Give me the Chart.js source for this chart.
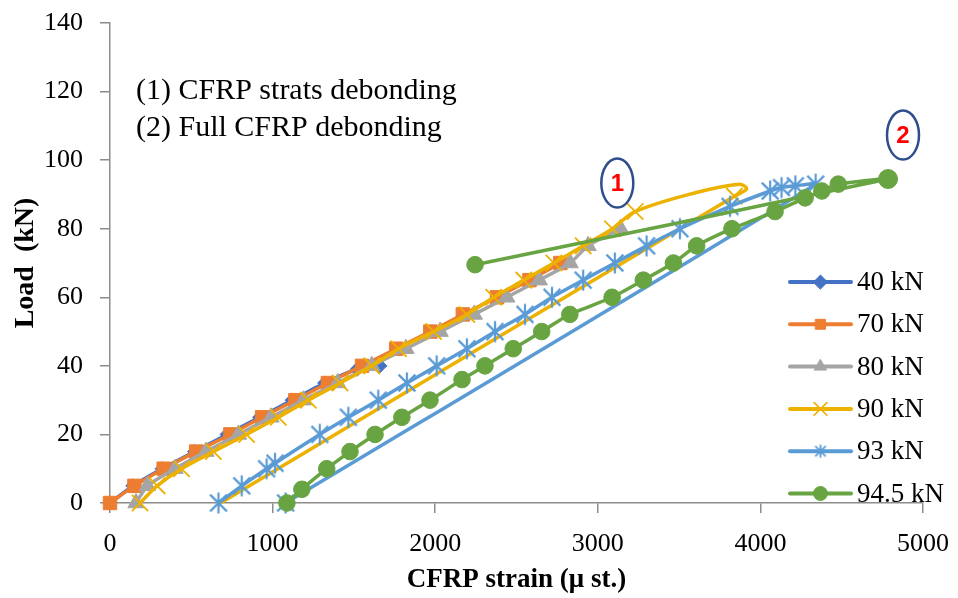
<!DOCTYPE html>
<html>
<head>
<meta charset="utf-8">
<script src="https://cdn.jsdelivr.net/npm/chart.js@4"></script>
<style>
  html, body { margin: 0; padding: 0; background: #fff; }
  #wrap { width: 958px; height: 598px; }
</style>
</head>
<body>
<div id="wrap"><canvas id="strainChart" width="958" height="598"></canvas></div>
<script>
// strain (micro strain) / load (kN) pairs
const strain40 = [0, 140, 320, 520, 720, 920, 1120, 1320, 1520, 1660];
const load40   = [0, 5, 10, 15, 20, 25, 30, 35, 39, 40];

const strain70 = [0, 150, 330, 530, 740, 935, 1140, 1340, 1550, 1760, 1970, 2170, 2380, 2580, 2770];
const load70   = [0, 5, 10, 15, 20, 25, 30, 35, 40, 45, 50, 55, 60, 65, 70];

const strain80 = [160, 230, 400, 590, 790, 990, 1190, 1400, 1610, 1820, 2030, 2240, 2440, 2640, 2830, 2940, 3140];
const load80   = [0, 5, 10, 15, 20, 25, 30, 35, 40, 45, 50, 55, 60, 65, 70, 75, 80];

const strain90 = [185, 290, 440, 636, 840, 1035, 1220, 1415, 1610, 1775, 1990, 2195, 2360, 2545, 2730, 2910, 3090, 3230, 3600, 3870, 3915, 3840, 680];
const load90   = [0, 5, 10, 15, 20, 25, 30, 35, 40, 45, 50, 55, 60, 65, 70, 75, 80, 85, 90.5, 93, 91.6, 89.5, 0];
const marks90  = [1, 1, 1, 1, 1, 1, 1, 1, 1, 1, 1, 1, 1, 1, 1, 1, 1, 1, 0, 0, 0, 1, 0];

const strain93 = [667, 810, 963, 1015, 1290, 1466, 1650, 1826, 2009, 2195, 2368, 2552, 2718, 2910, 3105, 3300, 3505, 3813, 4060, 4130, 4215, 4340, 1080];
const load93   = [0, 5, 10, 11.6, 20, 25, 30, 35, 40, 45, 50, 55, 60, 65, 70, 75, 80, 86.5, 91, 92, 92.5, 93, 0];

const strain94 = [1088, 1180, 1333, 1476, 1630, 1795, 1968, 2165, 2306, 2480, 2655, 2828, 3088, 3280, 3465, 3608, 3825, 4090, 4275, 4378, 4479, 4785, 2245];
const load94   = [0, 4, 10, 15, 20, 25, 30, 36, 40, 45, 50, 55, 60, 65, 70, 75, 80, 85, 89, 91, 93, 94.5, 69.5];

const seriesNames = ['40 kN', '70 kN', '80 kN', '90 kN', '93 kN', '94.5 kN'];
const xTicks = [0, 1000, 2000, 3000, 4000, 5000];
const yTicks = [0, 20, 40, 60, 80, 100, 120, 140];

const notes = ['(1) CFRP strats debonding', '(2) Full CFRP debonding'];

function pts(xs, ys) {
  return xs.map((x, i) => ({ x: x, y: ys[i] }));
}

// Excel style asterisk marker (x plus a vertical bar)
function asterisk(color, size, lw) {
  const c = document.createElement('canvas');
  c.width = size; c.height = size;
  const g = c.getContext('2d');
  const m = size / 2, r = size / 2 - 1.5;
  g.strokeStyle = color;
  g.lineWidth = lw;
  g.beginPath();
  g.moveTo(m, m - r); g.lineTo(m, m + r);
  g.moveTo(m - r * 0.8, m - r * 0.8); g.lineTo(m + r * 0.8, m + r * 0.8);
  g.moveTo(m + r * 0.8, m - r * 0.8); g.lineTo(m - r * 0.8, m + r * 0.8);
  g.stroke();
  return c;
}

const cDark = '#4472C4', cOrange = '#ED7D31', cGray = '#A5A5A5',
      cYellow = '#EDB100', cBlue = '#5B9BD5', cGreen = '#68A442';

const starBig = asterisk(cBlue, 24, 2.2);
const starSmall = asterisk(cBlue, 16, 1.8);

const datasets = [
  { label: seriesNames[0], data: pts(strain40, load40), borderColor: cDark, backgroundColor: cDark,
    pointStyle: 'rectRot', pointRadius: 7, tension: 0.2, order: 6 },
  { label: seriesNames[1], data: pts(strain70, load70), borderColor: cOrange, backgroundColor: cOrange,
    pointStyle: 'rect', pointRadius: 9.5, tension: 0.2, order: 5 },
  { label: seriesNames[2], data: pts(strain80, load80), borderColor: cGray, backgroundColor: cGray,
    pointStyle: 'triangle', pointRadius: 9.5, tension: 0.2, order: 4 },
  { label: seriesNames[3], data: pts(strain90, load90), borderColor: cYellow, backgroundColor: cYellow,
    pointStyle: 'crossRot', pointRadius: marks90.map(m => m ? 11.5 : 0), pointBorderWidth: 1.8,
    tension: 0.35, order: 3 },
  { label: seriesNames[4], data: pts(strain93, load93), borderColor: cBlue, backgroundColor: cBlue,
    pointStyle: starBig, pointRadius: 12, tension: 0.2, order: 2 },
  { label: seriesNames[5], data: pts(strain94, load94), borderColor: cGreen, backgroundColor: cGreen,
    pointStyle: 'circle', pointRadius: load94.map((v, i) => i === 21 ? 9.5 : 8.3), tension: 0.2, order: 1 }
];
datasets.forEach(d => {
  d.borderWidth = 3.5;
  d.showLine = true;
  d.clip = false;
  d.pointHoverRadius = d.pointRadius;
  if (d.pointBorderWidth === undefined) d.pointBorderWidth = 1;
});

const serif = '"Liberation Serif", "DejaVu Serif", serif';

const extras = {
  id: 'extras',
  afterDraw(chart) {
    const ctx = chart.ctx;
    const xs = chart.scales.x, ys = chart.scales.y;
    ctx.save();
    // notes
    ctx.fillStyle = '#000';
    ctx.font = '30px ' + serif;
    ctx.textBaseline = 'middle';
    ctx.textAlign = 'left';
    ctx.fillText(notes[0], 136, ys.getPixelForValue(120));
    ctx.fillText(notes[1], 136, ys.getPixelForValue(109.3));

    // circled markers 1 and 2
    const marks = [{ t: '1', x: 3120, y: 93.3 }, { t: '2', x: 4877, y: 107.3 }];
    marks.forEach(m => {
      const px = xs.getPixelForValue(m.x), py = ys.getPixelForValue(m.y);
      ctx.beginPath();
      ctx.ellipse(px, py, 16, 24.5, 0, 0, Math.PI * 2);
      ctx.strokeStyle = '#2F4E8C';
      ctx.lineWidth = 2.5;
      ctx.stroke();
      ctx.fillStyle = '#FF0000';
      ctx.font = 'bold 24px "Liberation Sans", Arial, sans-serif';
      ctx.textAlign = 'center';
      ctx.fillText(m.t, px, py + 1);
    });

    // legend
    const lx0 = 790, lx1 = 851;
    chart.data.datasets.forEach((d, i) => {
      const ly = 282 + i * 42.3;
      ctx.strokeStyle = d.borderColor;
      ctx.lineWidth = 4;
      ctx.lineCap = 'round';
      ctx.beginPath();
      ctx.moveTo(lx0, ly); ctx.lineTo(lx1, ly);
      ctx.stroke();
      const style = d.pointStyle === starBig ? starSmall : d.pointStyle;
      const r = d.pointStyle === 'crossRot' ? 9 : 7;
      ctx.fillStyle = d.backgroundColor;
      ctx.lineWidth = d.pointStyle === 'crossRot' ? 1.7 : 1;
      Chart.helpers.drawPoint(ctx, { pointStyle: style, radius: r, rotation: 0, borderWidth: ctx.lineWidth }, (lx0 + lx1) / 2, ly);
      ctx.fillStyle = '#000';
      ctx.font = '27px ' + serif;
      ctx.textAlign = 'left';
      ctx.fillText(d.label, 857, ly + 1);
    });
    ctx.restore();
  }
};

new Chart(document.getElementById('strainChart'), {
  type: 'scatter',
  data: { datasets: datasets },
  options: {
    responsive: false,
    animation: false,
    events: [],
    layout: { padding: { left: 0, right: 35, top: 23, bottom: 0 } },
    plugins: { legend: { display: false }, tooltip: { enabled: false } },
    scales: {
      x: {
        type: 'linear', min: 0, max: 5000,
        afterBuildTicks: s => { s.ticks = xTicks.map(v => ({ value: v })); },
        afterFit: s => { s.height = 95; s.paddingLeft = 0; s.paddingRight = 0; },
        border: { color: '#8C8C8C', width: 1.5 },
        grid: { drawOnChartArea: false, drawTicks: true, tickLength: 10, color: '#8C8C8C', lineWidth: 1.5 },
        ticks: { color: '#000', font: { family: serif, size: 26 }, padding: 16, maxRotation: 0,
                 callback: v => String(v) },
        title: { display: true, text: 'CFRP strain (μ st.)', color: '#000',
                 font: { family: serif, size: 27, weight: 'bold' }, padding: { top: 0, bottom: 2 } }
      },
      y: {
        type: 'linear', min: 0, max: 140,
        afterBuildTicks: s => { s.ticks = yTicks.map(v => ({ value: v })); },
        afterFit: s => { s.width = 110; s.paddingTop = 0; s.paddingBottom = 0; },
        border: { color: '#8C8C8C', width: 1.5 },
        grid: { drawOnChartArea: false, drawTicks: true, tickLength: 10, color: '#8C8C8C', lineWidth: 1.5 },
        ticks: { color: '#000', font: { family: serif, size: 26 }, padding: 17, callback: v => String(v) },
        title: { display: true, text: 'Load  (kN)', color: '#000',
                 font: { family: serif, size: 28, weight: 'bold' }, padding: { top: 9, bottom: 0 } }
      }
    }
  },
  plugins: [extras]
});
</script>
</body>
</html>
